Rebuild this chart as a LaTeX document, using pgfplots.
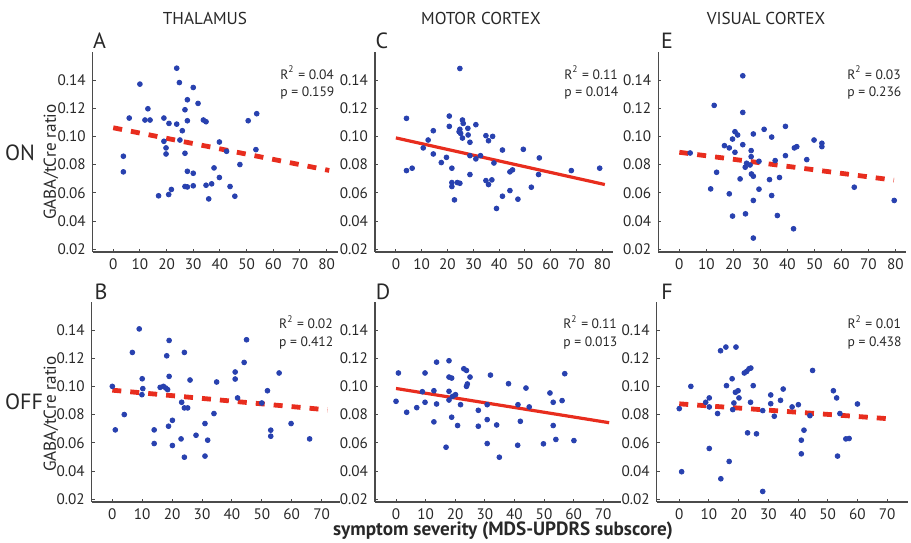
\documentclass[border=0pt]{standalone}
\usepackage{fontspec}
\setmainfont{PT Sans}
\usepackage{pgfplots}
\pgfplotsset{compat=1.18}

\definecolor{dotblue}{RGB}{40,65,175}
\definecolor{fitred}{RGB}{232,45,30}
\definecolor{axgray}{RGB}{75,75,75}
\definecolor{txtgray}{RGB}{40,40,40}

\pgfplotsset{
  panel/.style={
    scale only axis, height=100pt,
    ymin=0.018, ymax=0.16,
    axis lines=left, axis line style={-, axgray, line width=0.75pt},
    ytick={0.02,0.04,0.06,0.08,0.10,0.12,0.14},
    /pgf/number format/assume math mode=true,
    yticklabel style={/pgf/number format/.cd, fixed, fixed zerofill, precision=2},
    ticklabel style={font=\fontsize{7.6}{8}\selectfont, text=txtgray},
    tick style={axgray, line width=0.5pt},
    tick align=inside, major tick length=1.5pt,
    clip=false,
  },
  dots/.style={only marks, mark=*, mark size=1.2pt, color=dotblue},
  fitdash/.style={no marks, fitred, line width=2.4pt, dash pattern=on 4.5pt off 4.5pt},
  fitsolid/.style={no marks, fitred, line width=1.6pt},
  toprow/.style={xtick={0,10,20,30,40,50,60,70,80}},
  botrow/.style={xtick={0,10,20,30,40,50,60,70}},
}
\tikzset{stat/.style={anchor=west, inner sep=0pt, font=\fontsize{6.8}{7}\selectfont, text=txtgray}}

\begin{document}
\begin{tikzpicture}
\useasboundingbox (0,0) rectangle (455.5pt,271pt);

% ---- A: thalamus ON
\begin{axis}[panel, toprow, at={(46.35pt,145pt)}, width=122.55pt, xmin=-7.7, xmax=84.2]
\addplot[dots] coordinates {
(23.8,0.1485) (24.8,0.1383) (10.0,0.1372) (30.0,0.1348) (27.8,0.1261) (31.8,0.1235)
(26.9,0.1190) (13.0,0.1197) (6.0,0.1131) (11.9,0.1117) (13.8,0.1117) (19.0,0.1131)
(27.8,0.1112) (33.8,0.1117) (34.8,0.1105) (20.9,0.1093) (23.8,0.1088) (50.6,0.1112)
(53.8,0.1162) (25.9,0.1041) (25.0,0.0975) (19.0,0.0966) (39.8,0.0961) (19.8,0.0919)
(42.5,0.0895) (53.5,0.0907) (19.8,0.0876) (26.9,0.0881) (3.8,0.0860) (47.5,0.0801)
(3.8,0.0749) (37.8,0.0777) (27.8,0.0753) (30.0,0.0739) (39.8,0.0709) (34.8,0.0654)
(36.9,0.0664) (26.9,0.0645) (27.8,0.0642) (30.0,0.0650) (43.8,0.0645) (21.8,0.0624)
(20.8,0.0588) (17.0,0.0579) (35.8,0.0557) (45.6,0.0576)
};
\addplot[fitdash] coordinates {(0,0.1062) (81,0.0759)};
\node[stat] at (rel axis cs:0.764,0.8965) {R\textsuperscript{2} = 0.04};
\node[stat] at (rel axis cs:0.764,0.797) {p = 0.159};
\end{axis}

% ---- C: motor cortex ON
\begin{axis}[panel, toprow, at={(187.5pt,145pt)}, width=118.8pt, xmin=-8.1, xmax=84]
\addplot[dots] coordinates {
(24.8,0.1483) (4.1,0.1129) (20.7,0.1145) (25.8,0.1117) (26.1,0.1093) (20.7,0.1072)
(31.0,0.1084) (27.9,0.1058) (24.8,0.1051) (24.5,0.1034) (25.1,0.1022) (14.5,0.1041)
(28.0,0.1011) (25.8,0.0989) (34.9,0.1006) (37.5,0.1001) (35.9,0.0970) (28.7,0.0959)
(12.5,0.0975) (10.6,0.0919) (41.3,0.0904) (49.4,0.0909) (14.5,0.0876) (28.7,0.0864)
(32.8,0.0864) (31.0,0.0841) (19.6,0.0852) (55.6,0.0848) (17.6,0.0815) (38.0,0.0812)
(4.1,0.0758) (6.3,0.0775) (21.7,0.0775) (44.2,0.0749) (45.2,0.0763) (68.0,0.0758)
(28.7,0.0730) (55.3,0.0730) (34.9,0.0687) (37.2,0.0692) (23.8,0.0673) (24.8,0.0668)
(21.7,0.0673) (21.7,0.0645) (35.9,0.0659) (52.5,0.0640) (44.2,0.0616) (41.3,0.0576)
(47.3,0.0555) (22.7,0.0550) (39.0,0.0489) (79.0,0.0775)
};
\addplot[fitsolid] coordinates {(0,0.0990) (81,0.0659)};
\node[stat] at (rel axis cs:0.795,0.8965) {R\textsuperscript{2} = 0.11};
\node[stat] at (rel axis cs:0.795,0.797) {p = 0.014};
\end{axis}

% ---- E: visual cortex ON
\begin{axis}[panel, toprow, at={(329.15pt,145pt)}, width=123.9pt, xmin=-7.8, xmax=84]
\addplot[dots] coordinates {
(23.5,0.1431) (12.9,0.1221) (23.5,0.1171) (31.4,0.1051) (39.3,0.1072) (20.6,0.1034)
(21.6,0.1011) (27.4,0.1018) (34.2,0.0996) (19.7,0.0982) (49.9,0.0975) (52.8,0.0952)
(52.8,0.0928) (16.7,0.0935) (23.5,0.0942) (18.5,0.0919) (42.6,0.0919) (43.5,0.0928)
(4.0,0.0883) (20.6,0.0888) (26.6,0.0900) (26.6,0.0857) (39.3,0.0864) (47.2,0.0836)
(35.5,0.0829) (29.5,0.0824) (24.4,0.0782) (26.2,0.0798) (24.9,0.0810) (13.8,0.0746)
(26.7,0.0734) (27.4,0.0718) (22.5,0.0699) (33.4,0.0694) (37.1,0.0709) (11.6,0.0628)
(29.5,0.0626) (64.8,0.0640) (18.5,0.0593) (34.2,0.0581) (27.4,0.0546) (79.6,0.0546)
(19.7,0.0435) (24.5,0.0451) (36.3,0.0439) (42.3,0.0345) (27.4,0.0279)
};
\addplot[fitdash] coordinates {(0,0.0888) (79.5,0.0690)};
\node[stat] at (rel axis cs:0.761,0.8965) {R\textsuperscript{2} = 0.03};
\node[stat] at (rel axis cs:0.761,0.797) {p = 0.236};
\end{axis}

% ---- B: thalamus OFF
\begin{axis}[panel, botrow, at={(45.85pt,20pt)}, width=123.9pt, xmin=-6.9, xmax=76]
\addplot[dots] coordinates {
(9.0,0.1409) (6.7,0.1242) (19.0,0.1327) (44.9,0.1332) (18.2,0.1218) (24.1,0.1242)
(44.1,0.1171) (10.0,0.1055) (19.0,0.1072) (26.0,0.1046) (34.9,0.1032) (41.1,0.1103)
(41.1,0.1053) (55.8,0.1096) (0.0,0.1001) (10.2,0.0985) (16.0,0.0994) (17.1,0.1001)
(17.9,0.0989) (18.5,0.0978) (9.9,0.0942) (51.9,0.0970) (41.9,0.0919) (23.2,0.0888)
(50.0,0.0883) (24.1,0.0848) (25.2,0.0848) (4.0,0.0801) (34.0,0.0808) (20.1,0.0760)
(18.8,0.0718) (31.0,0.0737) (1.0,0.0692) (14.0,0.0692) (53.0,0.0690) (53.0,0.0647)
(59.8,0.0737) (28.0,0.0654) (14.0,0.0595) (20.1,0.0581) (23.0,0.0628) (31.9,0.0619)
(66.0,0.0628) (24.1,0.0498) (31.0,0.0506)
};
\addplot[fitdash] coordinates {(0,0.0974) (72,0.0834)};
\node[stat] at (rel axis cs:0.755,0.897) {R\textsuperscript{2} = 0.02};
\node[stat] at (rel axis cs:0.755,0.795) {p = 0.412};
\end{axis}

% ---- D: motor cortex OFF
\begin{axis}[panel, botrow, at={(187.5pt,20pt)}, width=123pt, xmin=-7.1, xmax=76]
\addplot[dots] coordinates {
(0.8,0.1096) (9.8,0.1096) (13.7,0.1173) (17.9,0.1183) (17.9,0.1067) (18.8,0.1060)
(22.9,0.1126) (23.8,0.1114) (25.0,0.1067) (24.1,0.1018) (23.8,0.1001) (31.9,0.1081)
(38.0,0.1020) (43.9,0.0989) (52.0,0.0954) (57.0,0.1091) (0.0,0.0895) (3.6,0.0817)
(7.0,0.0850) (8.9,0.0963) (9.8,0.0888) (12.8,0.0970) (13.7,0.0876) (17.9,0.0966)
(17.9,0.0904) (19.1,0.0930) (20.1,0.0942) (21.8,0.0871) (27.8,0.0831) (30.8,0.0871)
(41.2,0.0871) (45.0,0.0855) (53.1,0.0888) (56.1,0.0900) (12.8,0.0749) (18.8,0.0782)
(20.8,0.0723) (27.8,0.0718) (30.8,0.0765) (34.0,0.0727) (42.0,0.0753) (53.1,0.0723)
(54.0,0.0624) (30.8,0.0595) (41.1,0.0583) (49.8,0.0593) (60.1,0.0616) (16.9,0.0569)
(34.9,0.0498)
};
\addplot[fitsolid] coordinates {(0,0.0986) (72,0.0743)};
\node[stat] at (rel axis cs:0.764,0.897) {R\textsuperscript{2} = 0.11};
\node[stat] at (rel axis cs:0.764,0.795) {p = 0.013};
\end{axis}

% ---- F: visual cortex OFF
\begin{axis}[panel, botrow, at={(328.35pt,20pt)}, width=125.6pt, xmin=-7.6, xmax=77]
\addplot[dots] coordinates {
(15.7,0.1280) (19.1,0.1280) (13.9,0.1254) (23.5,0.1126) (22.7,0.1107) (21.9,0.1096)
(24.1,0.1131) (44.9,0.1114) (17.8,0.1055) (3.9,0.1001) (15.9,0.1006) (24.9,0.1006)
(19.8,0.0970) (18.9,0.0959) (35.0,0.0982) (51.9,0.0970) (10.1,0.0919) (20.1,0.0919)
(30.8,0.0940) (53.0,0.0919) (34.1,0.0902) (8.9,0.0888) (18.4,0.0883) (24.0,0.0888)
(30.8,0.0878) (40.1,0.0871) (60.0,0.0876) (0.0,0.0843) (10.1,0.0855) (18.0,0.0836)
(38.0,0.0855) (28.1,0.0829) (12.9,0.0808) (32.0,0.0789) (44.0,0.0793) (54.1,0.0808)
(42.0,0.0690) (23.0,0.0671) (26.0,0.0664) (41.1,0.0619) (56.1,0.0628) (57.2,0.0631)
(10.1,0.0560) (41.1,0.0522) (53.3,0.0506) (16.8,0.0468) (0.8,0.0395) (14.0,0.0345)
(28.1,0.0255)
};
\addplot[fitdash] coordinates {(0,0.0877) (72,0.0769)};
\node[stat] at (rel axis cs:0.758,0.897) {R\textsuperscript{2} = 0.01};
\node[stat] at (rel axis cs:0.758,0.795) {p = 0.438};
\end{axis}

% labels around the panels
\begin{scope}[every node/.style={text=txtgray, inner sep=0pt}]
\node[font=\fontsize{8.6}{9}\selectfont] at (102.5pt,262pt) {THALAMUS};
\node[font=\fontsize{8.6}{9}\selectfont] at (240.5pt,262pt) {MOTOR CORTEX};
\node[font=\fontsize{8.6}{9}\selectfont] at (383pt,262pt) {VISUAL CORTEX};
\node[font=\fontsize{11}{12}\selectfont] at (49.75pt,250.5pt) {A};
\node[font=\fontsize{11}{12}\selectfont] at (191pt,250.5pt) {C};
\node[font=\fontsize{11}{12}\selectfont] at (333.5pt,250.5pt) {E};
\node[font=\fontsize{11}{12}\selectfont] at (50.5pt,125pt) {B};
\node[font=\fontsize{11}{12}\selectfont] at (191.5pt,125pt) {D};
\node[font=\fontsize{11}{12}\selectfont] at (333.5pt,125pt) {F};
\node[font=\fontsize{11}{12}\selectfont] at (10pt,194.5pt) {ON};
\node[font=\fontsize{11}{12}\selectfont] at (12pt,70pt) {OFF};
\node[font=\fontsize{8.6}{9}\selectfont, rotate=90] at (25.5pt,190pt) {GABA/tCre ratio};
\node[font=\fontsize{8.6}{9}\selectfont, rotate=90] at (25.5pt,64pt) {GABA/tCre ratio};
\node[font=\bfseries\fontsize{9.6}{10}\selectfont] at (251.5pt,5.5pt) {symptom severity (MDS-UPDRS subscore)};
\end{scope}
\end{tikzpicture}
\end{document}
